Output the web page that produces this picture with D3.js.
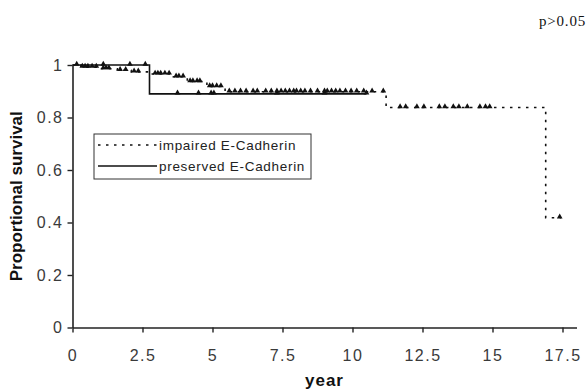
<!DOCTYPE html>
<html>
<head>
<meta charset="utf-8">
<script src="https://cdn.jsdelivr.net/npm/d3@7"></script>
<style>
  body { margin: 0; background: #fff; }
  svg { display: block; }
</style>
</head>
<body>
<div id="chart"></div>
<script>
// survival steps (year, proportion) for each group
const impairedTimes = [0, 0.3, 1.0, 1.6, 2.1, 2.85, 3.6, 4.1, 4.8, 5.45, 11.2, 16.9];
const impairedSurv = [1, 0.992, 0.986, 0.98, 0.974, 0.966, 0.955, 0.937, 0.918, 0.898, 0.838, 0.418];
const impairedEnd = 17.45;
const impairedCensored = [0.15, 0.35, 0.45, 0.55, 0.7, 0.85, 1.1, 1.2, 1.3, 1.7, 1.9, 2.2, 2.35, 2.95, 3.05, 3.15, 3.3, 3.45,
  3.7, 3.8, 3.95, 4.2, 4.3, 4.45, 4.55, 4.9, 5.0, 5.15, 5.3, 5.6, 5.8, 6.0, 6.2, 6.45, 6.6, 6.9, 7.1, 7.3, 7.45, 7.6,
  7.75, 7.9, 8.0, 8.15, 8.3, 8.5, 8.75, 9.0, 9.1, 9.25, 9.4, 9.55, 9.75, 9.95, 10.15, 10.4, 10.7, 11.1,
  11.7, 11.9, 12.3, 12.55, 13.1, 13.3, 13.6, 13.8, 14.1, 14.55, 14.75, 14.9, 17.4];

const preservedTimes = [0, 2.75];
const preservedSurv = [1, 0.89];
const preservedEnd = 10.5;
const preservedCensored = [1.1, 2.05, 2.6, 3.75, 4.5, 4.95, 5.05, 7.3, 9.0, 10.5];

const xTicks = [0, 2.5, 5, 7.5, 10, 12.5, 15, 17.5];
const xTickLabels = ['0', '2.5', '5', '7.5', '10', '12.5', '15', '17.5'];
const yTicks = [0, 0.2, 0.4, 0.6, 0.8, 1];
const yTickLabels = ['0', '0.2', '0.4', '0.6', '0.8', '1'];

const seriesNames = ['impaired E-Cadherin', 'preserved E-Cadherin'];

const width = 588, height = 391;
const margin = {top: 65, right: 11.5, bottom: 63.5, left: 72.5};
const innerW = width - margin.left - margin.right;
const innerH = height - margin.top - margin.bottom;

const svg = d3.select('#chart').append('svg')
  .attr('width', width)
  .attr('height', height)
  .style('font-family', 'Arial, "Liberation Sans", sans-serif');

const x = d3.scaleLinear().domain([0, 18]).range([0, innerW]);
const y = d3.scaleLinear().domain([0, 1]).range([innerH, 0]);

const g = svg.append('g')
  .attr('transform', 'translate(' + margin.left + ',' + margin.top + ')');

// axes
const xAxis = g.append('g')
  .attr('transform', 'translate(0,' + innerH + ')')
  .call(d3.axisBottom(x).tickValues(xTicks)
    .tickFormat((d, i) => xTickLabels[i])
    .tickSize(5).tickSizeOuter(0).tickPadding(17));

const yAxis = g.append('g')
  .call(d3.axisLeft(y).tickValues(yTicks)
    .tickFormat((d, i) => yTickLabels[i])
    .tickSize(5).tickSizeOuter(0).tickPadding(4));

[xAxis, yAxis].forEach(ax => {
  ax.select('.domain').attr('stroke', '#222').attr('stroke-width', 1.6);
  ax.selectAll('.tick line').attr('stroke', '#222').attr('stroke-width', 1.4);
  ax.selectAll('.tick text')
    .attr('fill', '#3a3a3a')
    .style('font-size', '16px')
    .style('letter-spacing', '1.5px')
    .style('font-family', 'Arial, "Liberation Sans", sans-serif');
});

function steps(times, surv, end) {
  const pts = times.map((t, i) => [t, surv[i]]);
  pts.push([end, surv[surv.length - 1]]);
  return pts;
}

function survAt(times, surv, t) {
  let s = surv[0];
  times.forEach((tt, i) => { if (tt <= t) s = surv[i]; });
  return s;
}

const line = d3.line()
  .x(d => x(d[0]))
  .y(d => y(d[1]))
  .curve(d3.curveStepAfter);

// impaired (dotted)
g.append('path')
  .datum(steps(impairedTimes, impairedSurv, impairedEnd))
  .attr('fill', 'none')
  .attr('stroke', '#111')
  .attr('stroke-width', 1.6)
  .attr('stroke-dasharray', '2.5,5.5')
  .attr('d', line);

// preserved (solid)
g.append('path')
  .datum(steps(preservedTimes, preservedSurv, preservedEnd))
  .attr('fill', 'none')
  .attr('stroke', '#111')
  .attr('stroke-width', 1.6)
  .attr('d', line);

const tri = d3.symbol().type(d3.symbolTriangle).size(14);

g.selectAll('.cens-imp')
  .data(impairedCensored)
  .enter().append('path')
    .attr('class', 'cens-imp')
    .attr('d', tri)
    .attr('fill', '#111')
    .attr('transform', d => 'translate(' + x(d) + ',' + (y(survAt(impairedTimes, impairedSurv, d)) - 1) + ')');

g.selectAll('.cens-pre')
  .data(preservedCensored)
  .enter().append('path')
    .attr('class', 'cens-pre')
    .attr('d', tri)
    .attr('fill', '#111')
    .attr('transform', d => 'translate(' + x(d) + ',' + (y(survAt(preservedTimes, preservedSurv, d)) - 1) + ')');

// legend
const legend = svg.append('g').attr('transform', 'translate(94,134)');
legend.append('rect')
  .attr('width', 217).attr('height', 45)
  .attr('fill', '#fff').attr('stroke', '#333').attr('stroke-width', 1);

seriesNames.forEach((name, i) => {
  const ly = 11 + i * 21;
  legend.append('line')
    .attr('x1', 4).attr('x2', 63).attr('y1', ly).attr('y2', ly)
    .attr('stroke', '#111').attr('stroke-width', 1.4)
    .attr('stroke-dasharray', i === 0 ? '2.5,5.5' : null);
  legend.append('text')
    .attr('x', 65).attr('y', ly + 5)
    .attr('fill', '#222')
    .style('font-size', '13.5px')
    .style('letter-spacing', '0.7px')
    .text(name);
});

// axis titles
svg.append('text')
  .attr('transform', 'translate(22,' + (margin.top + innerH / 2) + ') rotate(-90)')
  .attr('text-anchor', 'middle')
  .style('font-size', '17px')
  .style('font-weight', 'bold')
  .attr('fill', '#111')
  .text('Proportional survival');

svg.append('text')
  .attr('x', margin.left + innerW / 2)
  .attr('y', 386)
  .attr('text-anchor', 'middle')
  .style('font-size', '17px')
  .style('font-weight', 'bold')
  .style('letter-spacing', '1px')
  .attr('fill', '#111')
  .text('year');

svg.append('text')
  .attr('x', 586)
  .attr('y', 26)
  .attr('text-anchor', 'end')
  .style('font-family', '"Liberation Serif", "Times New Roman", serif')
  .style('font-size', '15px')
  .style('letter-spacing', '0.8px')
  .attr('fill', '#111')
  .text('p>0.05');
</script>
</body>
</html>
